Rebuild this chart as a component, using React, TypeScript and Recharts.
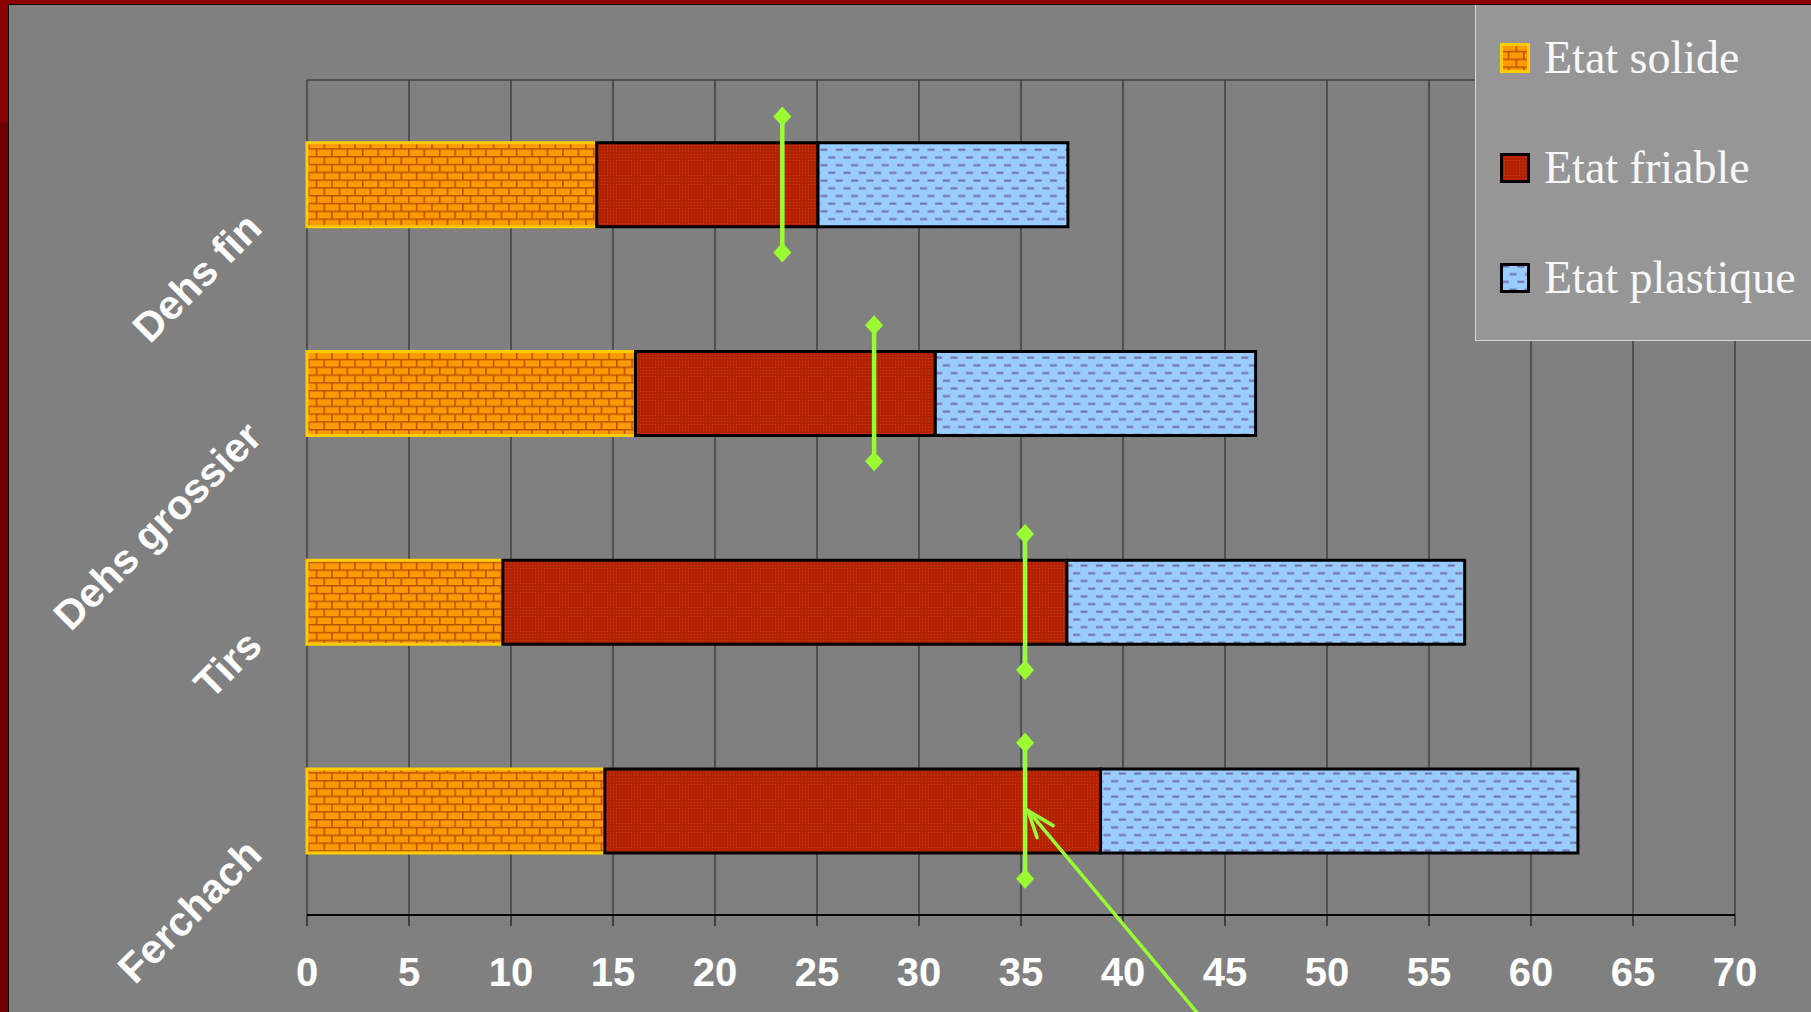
import React from 'react';
import { ComposedChart, Bar, Scatter, XAxis, YAxis, CartesianGrid, Legend } from 'recharts';

const categories = ['Dehs fin', 'Dehs grossier', 'Tirs', 'Ferchach'];
const etatSolide = [14.2, 16.1, 9.6, 14.6];
const etatFriable = [10.85, 14.7, 27.65, 24.3];
const etatPlastique = [12.25, 15.7, 19.5, 23.4];
const markerValues = [23.3, 27.8, 35.2, 35.2];
const arrowTargets = ['Ferchach'];
const xTicks = [0, 5, 10, 15, 20, 25, 30, 35, 40, 45, 50, 55, 60, 65, 70];
const bandBoundaries = [0, 1, 2, 3, 4];
const legendNames = ['Etat solide', 'Etat friable', 'Etat plastique'];

const data = categories.map((name, i) => ({
  name,
  solide: etatSolide[i],
  friable: etatFriable[i],
  plastique: etatPlastique[i],
  marker: markerValues[i],
  arrow: arrowTargets.includes(name),
}));

const GREEN = '#99FF33';
const SANS = '"Liberation Sans", Arial, sans-serif';
const SERIF = '"Liberation Serif", "Times New Roman", serif';
const CAT_FONT = 41;

const PatternDefs = ({ suffix }: { suffix: string }) => (
  <defs>
    <pattern id={`brick${suffix}`} width="15.4" height="15.6" patternUnits="userSpaceOnUse">
      <rect width="15.4" height="15.6" fill="#FF9900" />
      <path d="M0 0.7H15.4 M0 8.5H15.4 M0.8 0V7.8 M8.5 7.8V15.6" stroke="#B85400" strokeWidth="1.6" />
    </pattern>
    <pattern id={`dots${suffix}`} width="3" height="3" patternUnits="userSpaceOnUse">
      <rect width="3" height="3" fill="#B02200" />
      <rect x="1" y="1" width="1" height="1" fill="#D03A10" />
    </pattern>
    <pattern id={`dash${suffix}`} width="15.3" height="15.4" patternUnits="userSpaceOnUse">
      <rect width="15.3" height="15.4" fill="#99CCFF" />
      <path d="M2 3.5H9 M9.6 11.2H15.3 M0 11.2H1.3" stroke="#7474AC" strokeWidth="2" />
    </pattern>
  </defs>
);

const CategoryTick = (props: any) => {
  const { x, y, payload } = props;
  const label = String(payload.value);
  const ax = x - 43;
  const ay = y + 46;
  return (
    <text
      x={ax}
      y={ay}
      transform={`rotate(-45, ${ax}, ${ay})`}
      textAnchor="end"
      fill="#FFFFFF"
      fontFamily={SANS}
      fontWeight="bold"
      fontSize={CAT_FONT}
    >
      {label}
    </text>
  );
};

const MarkerShape = (props: any) => {
  const { cx, cy, payload } = props;
  if (cx == null || cy == null) return null;
  const half = 68;
  const dw = 9;
  const dh = 10;
  const diamond = (yc: number) =>
    `${cx},${yc - dh} ${cx + dw},${yc} ${cx},${yc + dh} ${cx - dw},${yc}`;
  const tipX = cx + 3;
  const tipY = cy;
  return (
    <g>
      <line x1={cx} x2={cx} y1={cy - half} y2={cy + half} stroke={GREEN} strokeWidth={4.5} />
      <polygon points={diamond(cy - half)} fill={GREEN} />
      <polygon points={diamond(cy + half)} fill={GREEN} />
      {payload && payload.arrow ? (
        <g stroke={GREEN} strokeWidth={3.5} fill="none" strokeLinecap="round">
          <line x1={tipX} y1={tipY} x2={tipX + 169 * 1.5} y2={tipY + 202 * 1.5} />
          <polyline points={`${tipX + 25},${tipY + 15} ${tipX},${tipY} ${tipX + 9},${tipY + 27}`} />
        </g>
      ) : null}
    </g>
  );
};

const legendFills = ['url(#brick-lg)', 'url(#dots-lg)', 'url(#dash-lg)'];
const legendStrokes = ['#FFCC00', '#000000', '#000000'];

const LegendContent = () => (
  <div style={{ position: 'relative', width: 336, height: 336 }}>
    {legendNames.map((name, i) => (
      <div
        key={name}
        style={{
          position: 'absolute',
          left: 24,
          top: 33 + i * 110,
          height: 40,
          display: 'flex',
          alignItems: 'center',
          whiteSpace: 'nowrap',
        }}
      >
        <svg width={30} height={30} style={{ display: 'block' }}>
          <PatternDefs suffix="-lg" />
          <rect x={1.5} y={1.5} width={27} height={27} fill={legendFills[i]} stroke={legendStrokes[i]} strokeWidth={3} />
        </svg>
        <span
          style={{
            marginLeft: 14,
            fontFamily: SERIF,
            fontSize: 46,
            color: '#F8F8F8',
            lineHeight: '40px',
          }}
        >
          {name}
        </span>
      </div>
    ))}
  </div>
);

export default function App() {
  return (
    <div
      style={{
        position: 'absolute',
        left: 0,
        top: 0,
        width: 1811,
        height: 1012,
        background: '#700000',
        overflow: 'hidden',
      }}
    >
      <div style={{ position: 'absolute', left: 0, top: 0, width: 1811, height: 4, background: '#8A0000' }} />
      <div style={{ position: 'absolute', left: 0, top: 0, width: 8, height: 122, background: '#8A0000' }} />
      <div
        style={{
          position: 'absolute',
          left: 8,
          top: 4,
          width: 1803,
          height: 1008,
          background: '#808080',
          borderLeft: '1px solid #000',
          borderTop: '1px solid #000',
          boxSizing: 'border-box',
        }}
      />
      <div style={{ position: 'absolute', left: 0, top: 0 }}>
        <ComposedChart
          width={1811}
          height={1012}
          data={data}
          layout="vertical"
          margin={{ top: 80, right: 76, bottom: 0, left: 9 }}
          barCategoryGap="30%"
        >
          <PatternDefs suffix="" />
          <CartesianGrid
            yAxisId="grid"
            stroke="#202020"
            strokeWidth={1}
            horizontal
            vertical
            fill="none"
          />
          <XAxis
            type="number"
            domain={[0, 70]}
            ticks={xTicks}
            interval={0}
            height={97}
            tickSize={11}
            tickMargin={32}
            axisLine={{ stroke: '#000', strokeWidth: 2 }}
            tickLine={{ stroke: '#000', strokeWidth: 1 }}
            tick={{ fill: '#FFFFFF', fontSize: 40, fontWeight: 700, fontFamily: SANS }}
          />
          <YAxis
            yAxisId="grid"
            type="number"
            domain={[0, 4]}
            ticks={bandBoundaries}
            tick={false}
            tickSize={11}
            width={0}
            axisLine={{ stroke: '#000', strokeWidth: 1.5 }}
            tickLine={{ stroke: '#3A3A3A', strokeWidth: 2 }}
          />
          <YAxis
            yAxisId="cat"
            type="category"
            dataKey="name"
            width={298}
            axisLine={false}
            tickLine={false}
            tickSize={0}
            tickMargin={0}
            interval={0}
            tick={<CategoryTick />}
          />
          <Bar
            yAxisId="cat"
            dataKey="solide"
            name={legendNames[0]}
            stackId="s"
            fill="url(#brick)"
            stroke="#FFCC00"
            strokeWidth={3}
            isAnimationActive={false}
          />
          <Bar
            yAxisId="cat"
            dataKey="friable"
            name={legendNames[1]}
            stackId="s"
            fill="url(#dots)"
            stroke="#000000"
            strokeWidth={3}
            isAnimationActive={false}
          />
          <Bar
            yAxisId="cat"
            dataKey="plastique"
            name={legendNames[2]}
            stackId="s"
            fill="url(#dash)"
            stroke="#000000"
            strokeWidth={3}
            isAnimationActive={false}
          />
          <Scatter
            yAxisId="cat"
            dataKey="marker"
            fill={GREEN}
            shape={<MarkerShape />}
            isAnimationActive={false}
            legendType="none"
          />
          <Legend
            layout="horizontal"
            align="center"
            verticalAlign="middle"
            content={<LegendContent />}
            wrapperStyle={{
              left: 1475,
              top: 5,
              width: 336,
              height: 336,
              background: '#969696',
              borderLeft: '1px solid #D8D8D8',
              borderBottom: '1px solid #D8D8D8',
              boxSizing: 'border-box',
            }}
          />
        </ComposedChart>
      </div>
    </div>
  );
}
